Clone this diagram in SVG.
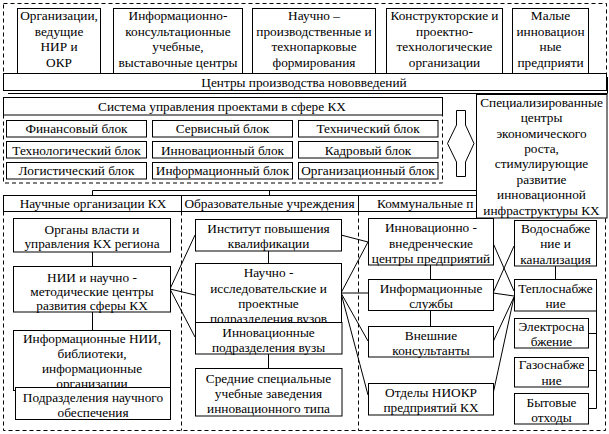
<svg xmlns="http://www.w3.org/2000/svg" width="609" height="434" viewBox="0 0 609 434" font-family="'Liberation Serif', 'Times New Roman', serif">
<style>
.b{fill:#fff;stroke:#000;stroke-width:1}
.d{fill:none;stroke:#000;stroke-width:1;stroke-dasharray:4 3}
.c{fill:none;stroke:#000;stroke-width:1}
text{font-family:"Liberation Serif","Times New Roman",serif;font-size:13.3px;fill:#000;text-anchor:middle}
</style>
<rect width="609" height="434" fill="#fff"/>
<g id="frames">
<rect class="d" x="3.5" y="3.5" width="603" height="75"/>
<rect class="d" x="3.5" y="110.5" width="439" height="72.5"/>
<path class="d" d="M3.5,211.5 V430.5 H605.5 V211.5 M181.5,211.5 V430.5 M358.5,211.5 V430.5"/>
</g>
<g id="connectors">
<path class="c" d="M92.5,195.5 V190.5 H480.5 V195.5 M269.5,190.5 V195.5"/>
<path class="c" d="M92.5,252 V266 M92.5,312 V330 M268.5,251 V263 M268.5,354 V368 M430.5,265 V279 M430.5,310 V327 M555.5,266 V279"/>
<path class="c" d="M170,289 L195,235 M170,289 L195,295 M170,289 L195,337"/>
<path class="c" d="M341,235 L368,242 M341,293 L368,242 M341,293 L368,293 M341,293 L368,341 M341,293 L368,395"/>
<path class="c" d="M493,243 L514,291 M493,293 L514,246 M493,293 L514,296 M493,342 L514,297 M493,394 L514,297"/>
<path class="c" d="M596.5,311 V408.5 M588,333.5 H596.5 M588,370.5 H596.5 M588,408.5 H596.5"/>
</g>
<g id="n-org"><rect class="b" x="17.5" y="8.5" width="83" height="65"/><text x="59" y="20">Организации,</text><text x="59" y="35.5">ведущие</text><text x="59" y="51">НИР и</text><text x="59" y="66.5">ОКР</text></g>
<g id="n-info"><rect class="b" x="113.5" y="8.5" width="129" height="65"/><text x="178" y="20">Информационно-</text><text x="178" y="35.5">консультационные</text><text x="178" y="51">учебные,</text><text x="178" y="66.5">выставочные центры</text></g>
<g id="n-nauch"><rect class="b" x="252.5" y="8.5" width="123" height="65"/><text x="314" y="20">Научно –</text><text x="314" y="35.5">производственные и</text><text x="314" y="51">технопарковые</text><text x="314" y="66.5">формирования</text></g>
<g id="n-konstr"><rect class="b" x="386.5" y="8.5" width="116" height="65"/><text x="444.5" y="20">Конструкторские и</text><text x="444.5" y="35.5">проектно-</text><text x="444.5" y="51">технологические</text><text x="444.5" y="66.5">организации</text></g>
<g id="n-malye"><rect class="b" x="512.5" y="8.5" width="76" height="65"/><text x="550.5" y="20">Малые</text><text x="550.5" y="35.5">инновацион</text><text x="550.5" y="51">ные</text><text x="550.5" y="66.5">предприяти</text></g>
<g id="n-centry"><path class="c" d="M8,93.5 H607.5 V77"/><rect class="b" x="3.5" y="73.5" width="603" height="17"/><text x="304" y="86.5">Центры производства нововведений</text></g>
<g id="n-sistema"><rect class="b" x="3.5" y="97.5" width="439" height="17.5"/><text x="222" y="110.5">Система управления проектами в сфере КХ</text></g>
<g id="n-fin"><rect class="b" x="6.5" y="120.5" width="140" height="16.5"/><text x="76.5" y="133">Финансовый блок</text></g>
<g id="n-serv"><rect class="b" x="152.5" y="120.5" width="140" height="16.5"/><text x="222.5" y="133">Сервисный блок</text></g>
<g id="n-tech"><rect class="b" x="298.5" y="120.5" width="139.5" height="16.5"/><text x="368" y="133">Технический блок</text></g>
<g id="n-technol"><rect class="b" x="6.5" y="141.5" width="140" height="16.5"/><text x="76.5" y="154.5">Технологический блок</text></g>
<g id="n-innov"><rect class="b" x="152.5" y="141.5" width="140" height="16.5"/><text x="222.5" y="154.5">Инновационный блок</text></g>
<g id="n-kadr"><rect class="b" x="298.5" y="141.5" width="139.5" height="16.5"/><text x="368" y="154.5">Кадровый блок</text></g>
<g id="n-log"><rect class="b" x="6.5" y="162.5" width="140" height="16.5"/><text x="76.5" y="175">Логистический блок</text></g>
<g id="n-infb"><rect class="b" x="152.5" y="162.5" width="140" height="16.5"/><text x="222.5" y="175">Информационный блок</text></g>
<g id="n-orgb"><rect class="b" x="298.5" y="162.5" width="139.5" height="16.5"/><text x="368" y="175">Организационный блок</text></g>
<g id="n-arrow"><polygon class="b" points="456.5,110.5 465.5,110.5 465.5,125 474,143.5 465.5,162 465.5,176.5 456.5,176.5 456.5,162 447.5,143.5 456.5,125"/></g>
<g id="n-header"><rect class="b" x="3.5" y="195.5" width="602" height="16"/><path class="c" d="M181.5,195.5 V211.5 M358.5,195.5 V211.5"/><text x="93" y="208">Научные организации КХ</text><text x="269.5" y="208">Образовательные учреждения</text><text x="377" y="208" style="text-anchor:start">Коммунальные п</text></g>
<g id="n-organy"><rect class="b" x="13.5" y="218.5" width="157" height="33.5"/><text x="92" y="233.5">Органы власти и</text><text x="92" y="247.5">управления КХ региона</text></g>
<g id="n-nii"><rect class="b" x="13.5" y="266.5" width="157" height="45.5"/><text x="92" y="281.5">НИИ и научно -</text><text x="92" y="295.5">методические центры</text><text x="92" y="309.5">развития сферы КХ</text></g>
<g id="n-infnii"><rect class="b" x="13.5" y="330.5" width="157" height="60"/><text x="92" y="342.5">Информационные НИИ,</text><text x="92" y="357.5">библиотеки,</text><text x="92" y="372.5">информационные</text><text x="92" y="387.5">организации</text></g>
<g id="n-podr"><rect class="b" x="15.5" y="387.5" width="155" height="32"/><text x="93" y="401.5">Подразделения научного</text><text x="93" y="416.5">обеспечения</text></g>
<g id="n-inst"><rect class="b" x="195.5" y="219.5" width="146" height="31.5"/><text x="268.5" y="232.5">Институт повышения</text><text x="268.5" y="247.5">квалификации</text></g>
<g id="n-nauchissl"><rect class="b" x="195.5" y="263.5" width="146" height="63"/><text x="268.5" y="276.5">Научно -</text><text x="268.5" y="292.5">исследовательские и</text><text x="268.5" y="307.5">проектные</text><text x="268.5" y="322.5">подразделения вузов</text></g>
<g id="n-innpodr"><rect class="b" x="195.5" y="322.5" width="146.5" height="31.5"/><text x="268.5" y="336.5">Инновационные</text><text x="268.5" y="351.5">подразделения вузы</text></g>
<g id="n-srednie"><rect class="b" x="195.5" y="368.5" width="146.5" height="47.5"/><text x="268.5" y="382.5">Средние специальные</text><text x="268.5" y="397.5">учебные заведения</text><text x="268.5" y="412.5">инновационного типа</text></g>
<g id="n-innvnedr"><rect class="b" x="368.5" y="218.5" width="125" height="46.5"/><text x="431" y="231.5">Инновационно -</text><text x="431" y="247.5">внедренческие</text><text x="431" y="262.5">центры предприятий</text></g>
<g id="n-infsl"><rect class="b" x="368.5" y="279.5" width="125" height="31"/><text x="431" y="292.5">Информационные</text><text x="431" y="307.5">службы</text></g>
<g id="n-vnesh"><rect class="b" x="368.5" y="326.5" width="125" height="30.5"/><text x="431" y="339.5">Внешние</text><text x="431" y="354.5">консультанты</text></g>
<g id="n-niokr"><rect class="b" x="368.5" y="383.5" width="125" height="31.5"/><text x="431" y="396.5">Отделы НИОКР</text><text x="431" y="412">предприятий КХ</text></g>
<g id="n-vodo"><rect class="b" x="514.5" y="220.5" width="82" height="45.5"/><text x="555.5" y="232.5">Водоснабже</text><text x="555.5" y="247.5">ние и</text><text x="555.5" y="263.5">канализация</text></g>
<g id="n-teplo"><rect class="b" x="514.5" y="279.5" width="82" height="31.5"/><text x="555.5" y="292.5">Теплоснабже</text><text x="555.5" y="307.5">ние</text></g>
<g id="n-elektro"><rect class="b" x="514.5" y="318.5" width="74" height="29.5"/><text x="551.5" y="330.5">Электросна</text><text x="551.5" y="346">бжение</text></g>
<g id="n-gaz"><rect class="b" x="514.5" y="357.5" width="74" height="29.5"/><text x="551.5" y="368.5">Газоснабже</text><text x="551.5" y="384.5">ние</text></g>
<g id="n-byt"><rect class="b" x="514.5" y="393.5" width="74" height="30.5"/><text x="551.5" y="406.5">Бытовые</text><text x="551.5" y="421.5">отходы</text></g>
<g id="n-spec"><rect class="b" x="476.5" y="94.5" width="130.5" height="123.5"/><text x="541.5" y="106.5">Специализированные</text><text x="541.5" y="122">центры</text><text x="541.5" y="137.5">экономического</text><text x="541.5" y="153">роста,</text><text x="541.5" y="168">стимулирующие</text><text x="541.5" y="183.5">развитие</text><text x="541.5" y="199">инновационной</text><text x="541.5" y="214.5">инфраструктуры КХ</text></g>
</svg>
